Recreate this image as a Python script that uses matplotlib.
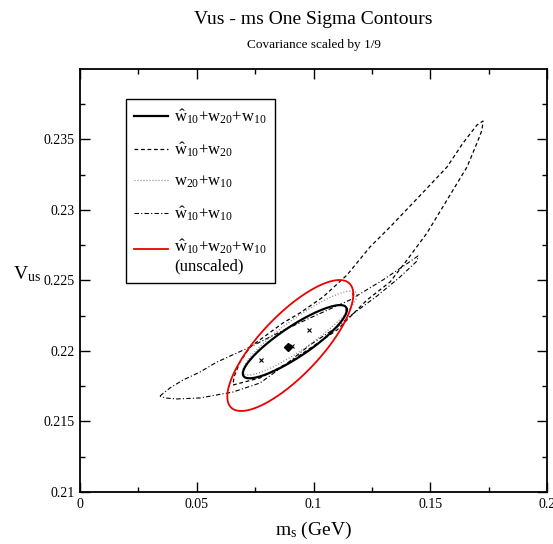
import numpy as np
import matplotlib
matplotlib.use("Agg")
import matplotlib.pyplot as plt
from matplotlib.lines import Line2D
from matplotlib.legend_handler import HandlerLine2D

plt.rcParams['font.family'] = ['Liberation Serif', 'DejaVu Serif']
plt.rcParams['mathtext.fontset'] = 'custom'
plt.rcParams['mathtext.rm'] = 'Liberation Serif'
plt.rcParams['mathtext.it'] = 'Liberation Serif:italic'
plt.rcParams['mathtext.bf'] = 'Liberation Serif:bold'

# Gaussian one-sigma contours: centre (ms, Vus), sigma_ms, sigma_Vus, correlation
full_center = (0.0920, 0.22066)
full_sigma = (0.02227, 0.002596)
full_rho = 0.87

dotted_center = (0.0942, 0.22128)
dotted_sigma = (0.0244, 0.00298)
dotted_rho = 0.90

unscaled_center = (0.09007, 0.22039)
unscaled_sigma = (0.02698, 0.004645)
unscaled_rho = 0.78

# Non-Gaussian contours traced as closed outlines (ms, Vus)
hat10_20_ms = [0.06553, 0.07709, 0.08994, 0.10064, 0.11007, 0.12291, 0.13276,
               0.14004, 0.14861, 0.15718, 0.16574, 0.17002, 0.17216, 0.17259,
               0.17002, 0.16403, 0.15718, 0.14989, 0.14261, 0.13276, 0.12420,
               0.11435, 0.10407, 0.09422, 0.08694, 0.07281, 0.06852, 0.06595]
hat10_20_vus = [0.21759, 0.21809, 0.21922, 0.22043, 0.22149, 0.22362, 0.22489,
                0.22645, 0.22837, 0.23071, 0.23305, 0.23475, 0.23567, 0.23631,
                0.23603, 0.23475, 0.23305, 0.23177, 0.23050, 0.22879, 0.22738,
                0.22539, 0.22383, 0.22270, 0.22199, 0.22028, 0.21922, 0.21816]

hat10_10_ms = [0.03426, 0.03854, 0.04411, 0.05139, 0.05867, 0.07281, 0.08565,
               0.09850, 0.11563, 0.12977, 0.13919, 0.14476, 0.14433, 0.13705,
               0.12720, 0.11563, 0.11007, 0.09850, 0.08780, 0.07709, 0.06553,
               0.05139, 0.04154, 0.03640]
hat10_10_vus = [0.21681, 0.21738, 0.21794, 0.21851, 0.21922, 0.22028, 0.22135,
                0.22234, 0.22362, 0.22504, 0.22610, 0.22674, 0.22638, 0.22525,
                0.22390, 0.22248, 0.22170, 0.22043, 0.21901, 0.21773, 0.21709,
                0.21667, 0.21660, 0.21667]

# Best-fit points
best_ms, best_vus = 0.0892, 0.22026
fits_ms = [0.0775, 0.0980, 0.0908]
fits_vus = [0.21936, 0.22149, 0.22038]

xticks = [0, 0.05, 0.1, 0.15, 0.2]
xtick_labels = ['0', '0.05', '0.1', '0.15', '0.2']
yticks = [0.21, 0.215, 0.22, 0.225, 0.23, 0.235]
ytick_labels = ['0.21', '0.215', '0.22', '0.225', '0.23', '0.235']


def sigma_ellipse(center, sigma, rho, n=400):
    sx, sy = sigma
    cov = np.array([[sx * sx, rho * sx * sy], [rho * sx * sy, sy * sy]])
    L = np.linalg.cholesky(cov)
    t = np.linspace(0, 2 * np.pi, n)
    pts = L @ np.vstack([np.cos(t), np.sin(t)])
    return center[0] + pts[0], center[1] + pts[1]


def closed(xs, ys):
    return list(xs) + [xs[0]], list(ys) + [ys[0]]


class FirstLineHandler(HandlerLine2D):
    """Legend line aligned with the first line of a two-line label."""

    def create_artists(self, legend, orig_handle, xdescent, ydescent, width,
                       height, fontsize, trans):
        arts = super().create_artists(legend, orig_handle, xdescent, ydescent,
                                      width, height, fontsize, trans)
        for a in arts:
            if isinstance(a, Line2D):
                a.set_ydata(np.asarray(a.get_ydata()) + 0.45 * fontsize)
        return arts


W, H = 553, 544
fig = plt.figure(figsize=(W / 100, H / 100), dpi=100)
ax = fig.add_axes([80 / W, 1 - 492 / H, 467 / W, 423 / H])

lab_full = r'$\hat{\mathrm{w}}_{10}$+w$_{20}$+w$_{10}$'
lab_h20 = r'$\hat{\mathrm{w}}_{10}$+w$_{20}$'
lab_2010 = r'w$_{20}$+w$_{10}$'
lab_h10 = r'$\hat{\mathrm{w}}_{10}$+w$_{10}$'
lab_uns = r'$\hat{\mathrm{w}}_{10}$+w$_{20}$+w$_{10}$' + '\n(unscaled)'

ls_dash = (0, (3.0, 2.2))
ls_dot = (0, (0.8, 1.6))
ls_dashdot = (0, (4.0, 2.0, 1.0, 2.0))

x, y = closed(hat10_20_ms, hat10_20_vus)
ax.plot(x, y, color='black', lw=0.9, ls=ls_dash)
x, y = closed(hat10_10_ms, hat10_10_vus)
ax.plot(x, y, color='black', lw=0.8, ls=ls_dashdot)
x, y = sigma_ellipse(dotted_center, dotted_sigma, dotted_rho)
ax.plot(x, y, color='#808080', lw=0.9, ls=ls_dot)
x, y = sigma_ellipse(full_center, full_sigma, full_rho)
ax.plot(x, y, color='black', lw=1.6)
x, y = sigma_ellipse(unscaled_center, unscaled_sigma, unscaled_rho)
ax.plot(x, y, color='#ee0000', lw=1.3)

ax.plot([best_ms], [best_vus], marker='D', color='black', ms=4.5, ls='none')
ax.plot(fits_ms, fits_vus, marker='x', color='black', ms=3.2, mew=0.8, ls='none')

ax.set_xlim(0, 0.2)
ax.set_ylim(0.21, 0.24)
ax.set_xticks(xticks)
ax.set_xticklabels(xtick_labels)
ax.set_yticks(yticks)
ax.set_yticklabels(ytick_labels)
ax.set_xticks(np.arange(0.025, 0.2, 0.05), minor=True)
ax.set_yticks(np.arange(0.2125, 0.24, 0.005), minor=True)
ax.tick_params(which='both', direction='in', top=True, right=True, width=1.0,
               labelsize=10, pad=4)
ax.tick_params(which='major', length=7)
ax.tick_params(which='minor', length=3.6)
for s in ax.spines.values():
    s.set_linewidth(1.3)

ax.set_xlabel(r'm$_\mathrm{s}$ (GeV)', fontsize=14)
ax.xaxis.set_label_coords(0.5, -0.065)
ax.set_ylabel(r'V$_\mathrm{us}$', fontsize=14, rotation=0, ha='center', va='center')
ax.yaxis.set_label_coords(-0.113, 0.515)

red_handle = Line2D([], [], color='#ee0000', lw=1.3)
handles = [
    Line2D([], [], color='black', lw=1.6),
    Line2D([], [], color='black', lw=0.9, ls=ls_dash),
    Line2D([], [], color='#808080', lw=0.9, ls=ls_dot),
    Line2D([], [], color='black', lw=0.8, ls=ls_dashdot),
    red_handle,
]
labels = [lab_full, lab_h20, lab_2010, lab_h10, lab_uns]
leg = ax.legend(handles, labels, loc='upper left', bbox_to_anchor=(0.0985, 0.929),
                borderaxespad=0, fancybox=False, framealpha=1, edgecolor='black',
                fontsize=12, handlelength=2.0, handletextpad=0.4,
                labelspacing=0.85, borderpad=0.5,
                handler_map={red_handle: FirstLineHandler()})
leg.get_frame().set_linewidth(1.0)

fig.text(313.5 / W, 1 - 20 / H, 'Vus - ms One Sigma Contours', ha='center',
         va='center', fontsize=14)
fig.text(313.5 / W, 1 - 45 / H, 'Covariance scaled by 1/9', ha='center',
         va='center', fontsize=9.5)

fig.savefig('out.png', dpi=100)
